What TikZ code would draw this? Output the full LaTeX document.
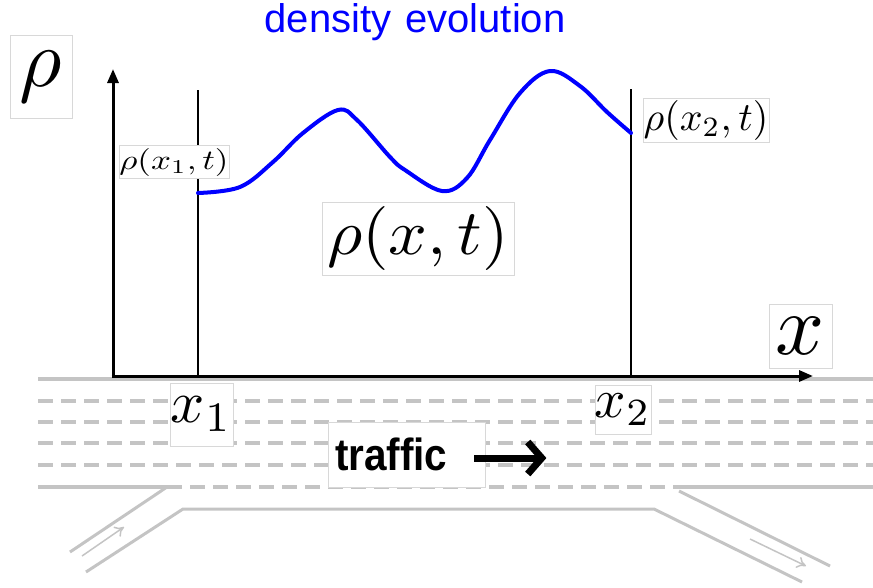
\documentclass[tikz,border=0pt]{standalone}
\usepackage{fontspec}
\usepackage{graphicx}
\newfontfamily\arialfont{Liberation Sans}
\usetikzlibrary{calc,arrows.meta,positioning}
\definecolor{roadgray}{RGB}{196,196,196}
\definecolor{boxgray}{RGB}{216,216,216}
\definecolor{densblue}{RGB}{0,0,255}

% math label at a given scale of 10pt
\newcommand{\mlbl}[2]{\scalebox{#1}{$#2$}}

\tikzset{
	road/.style={draw=roadgray, line width=3.5pt},
	lane/.style={road, dash pattern=on 15pt off 8pt},
	ramparrow/.style={draw=roadgray, line width=1.5pt, -{To[length=9pt,width=12pt]}},
	axisline/.style={line width=3pt, -{Triangle[length=14pt,width=11pt]}},
	lbl/.style={draw=boxgray, fill=white, line width=0.8pt, inner sep=0pt},
}

\begin{document}
\begin{tikzpicture}[x=1pt, y=-1pt]
	\useasboundingbox (0,0) rectangle (873,587);

	% road
	\draw[road] (38,379) -- (873,379);
	\foreach \yy in {401,422,443,465}
		\draw[lane] (38,\yy) -- (873,\yy);
	\draw[road] (38,487) -- (167,487);
	\draw[lane] (167,487) -- (679,487);
	\draw[road] (679,487) -- (873,487);
	% ramps
	\draw[road, line width=3pt] (70,552) -- (167,487);
	\draw[road, line width=3pt] (86,572) -- (183,509) -- (654,509) -- (802,582);
	\draw[road, line width=3pt] (679,491) -- (830,566);
	\draw[ramparrow] (82,556) -- (124,527);
	\draw[ramparrow] (750,539) -- (806,566);

	% axes
	\coordinate (origin) at (113,376);
	\coordinate (ytip) at (113,69);
	\coordinate (xtip) at (813,376);
	\draw[axisline] ($(origin)+(0,1.5)$) -- (ytip);
	\draw[axisline] ($(origin)+(-1.5,0)$) -- (xtip);

	\coordinate (x1top) at (198,90);
	\coordinate (x1bot) at (198,376);
	\coordinate (x2top) at (631,89);
	\coordinate (x2bot) at (631,376);
	\draw[line width=1.5pt] (x1top) -- (x1bot);
	\draw[line width=1.5pt] (x2top) -- (x2bot);

	% density curve
	\draw[densblue, line width=4pt, line cap=round] plot[smooth, tension=0.6] coordinates {
		(198,193) (240,187) (273,162) (303,133) (338,110) (357,120) (390,157)
		(405,170) (442,191) (467,178) (490,140) (520,93) (550,71) (580,86)
		(607,112) (631,133)};

	\node[anchor=base, text=densblue, font=\arialfont\fontsize{40}{40}\selectfont] (title) at (415,32) {density\hspace{0.35em}evolution};

	% labels
	\node[lbl, minimum width=62pt, minimum height=83pt] (rholbl) at (41,76.5) {\mlbl{8.2}{\rho}};
	\node[lbl, minimum width=63pt, minimum height=64pt] (xlbl) at (800.5,336) {\mlbl{8.6}{x}};
	\node[lbl, minimum width=110pt, minimum height=33pt] (rhoxone) at (174,162) {\scalebox{3.5}[2.8]{$\rho(x_1,t)$}};
	\node[lbl, minimum width=126pt, minimum height=44pt] (rhoxtwo) at (706,120) {\mlbl{4}{\rho(x_2,t)}};
	\node[lbl, minimum width=192pt, minimum height=73pt] (rhoxt) at (418,238.5) {\scalebox{6.8}[6.4]{$\rho(x,t)$}};
	\node[lbl, minimum width=63pt, minimum height=63pt] (xone) at (201.5,414.5) {\mlbl{6}{x_1}};
	\node[lbl, minimum width=56pt, minimum height=49pt] (xtwo) at (623,409.5) {\mlbl{5.5}{x_2}};

	\node[lbl, minimum width=157pt, minimum height=65pt, text width=143pt, inner xsep=7pt, align=left,
		font=\arialfont\bfseries\fontsize{45}{45}\selectfont] (traffic) at (406.5,454.5) {\scalebox{0.9}[1]{traffic}};
	\draw[line width=7pt, -{Straight Barb[length=14pt,width=32pt,line width=7pt]}] ($(traffic.east)+(-11,3.5)$) -- ++(72,0);
\end{tikzpicture}
\end{document}
